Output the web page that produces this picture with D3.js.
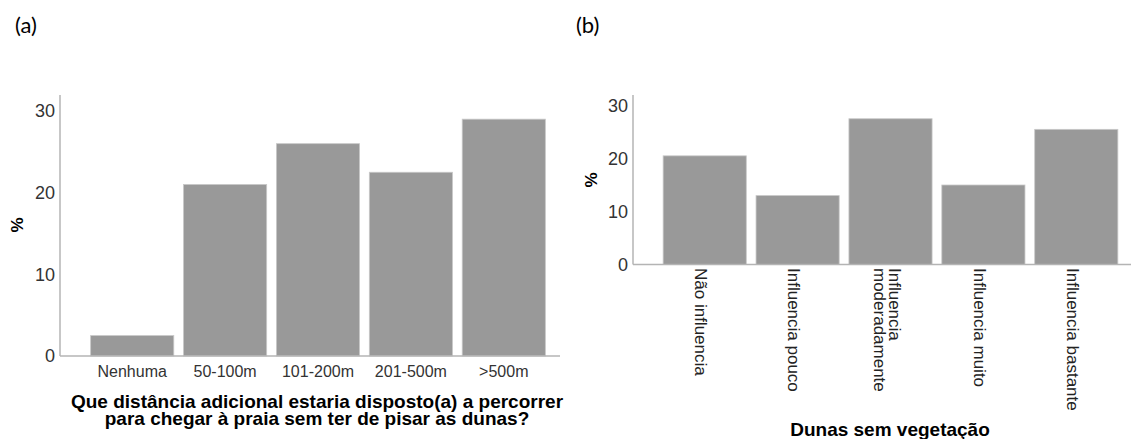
<!DOCTYPE html>
<html>
<head>
<meta charset="utf-8">
<script src="https://cdn.jsdelivr.net/npm/d3@7"></script>
<style>
  body { margin: 0; background: #fff; }
  svg { display: block; font-family: "Liberation Sans", Arial, sans-serif; }
</style>
</head>
<body>
<svg id="chart" width="1131" height="439"></svg>
<script>
// (a) distance
const distCategories = ["Nenhuma", "50-100m", "101-200m", "201-500m", ">500m"];
const distValues = [2.5, 21.0, 26.0, 22.5, 29.0];

// (b) dunes without vegetation
const dunasCategories = [
  ["Não influencia"],
  ["Influencia pouco"],
  ["Influencia", "moderadamente"],
  ["Influencia muito"],
  ["Influencia bastante"]
];
const dunasValues = [20.5, 13.0, 27.5, 15.0, 25.5];

const yTicks = [0, 10, 20, 30];

const svg = d3.select("#chart");

// panel letters
svg.append("text").attr("x", 15).attr("y", 33)
  .style("font-family", "Lato, 'Open Sans', sans-serif").style("font-size", "22px")
  .text("(a)");
svg.append("text").attr("x", 576).attr("y", 33)
  .style("font-family", "Lato, 'Open Sans', sans-serif").style("font-size", "22px")
  .text("(b)");

// ---------- panel (a) ----------
const xa = d3.scaleBand()
  .domain(distCategories)
  .range([86, 550])
  .paddingInner(0.105)
  .paddingOuter(0.05);

const ya = d3.scaleLinear().domain([0, 30]).range([356, 111]);

const ga = svg.append("g");

ga.selectAll(".bar")
  .data(distValues)
  .enter()
  .append("rect")
  .attr("class", "bar")
  .attr("x", (d, i) => xa(distCategories[i]))
  .attr("y", (d) => ya(d))
  .attr("width", xa.bandwidth())
  .attr("height", (d) => ya(0) - ya(d))
  .attr("fill", "#999999")
  .attr("stroke", "#c8c8c8")
  .attr("stroke-width", 0.8);

// axes lines
ga.append("line").attr("x1", 60).attr("x2", 60).attr("y1", 95).attr("y2", 356)
  .attr("stroke", "#b4b4b4").attr("stroke-width", 1.5);
ga.append("line").attr("x1", 60).attr("x2", 560).attr("y1", 356).attr("y2", 356)
  .attr("stroke", "#b4b4b4").attr("stroke-width", 1.5);

ga.selectAll(".ytick")
  .data(yTicks)
  .enter()
  .append("text")
  .attr("x", 55)
  .attr("y", (d) => ya(d))
  .attr("dy", "0.36em")
  .attr("text-anchor", "end")
  .style("font-size", "18px")
  .attr("fill", "#333")
  .text((d) => d);

ga.selectAll(".xtick")
  .data(distCategories)
  .enter()
  .append("text")
  .attr("x", (d) => xa(d) + xa.bandwidth() / 2)
  .attr("y", 377)
  .attr("text-anchor", "middle")
  .style("font-size", "16px")
  .attr("fill", "#333")
  .text((d) => d);

ga.append("text")
  .attr("transform", "translate(23,225) rotate(-90)")
  .attr("text-anchor", "middle")
  .style("font-size", "17px").style("font-weight", "bold")
  .text("%");

const titleA = ["Que distância adicional estaria disposto(a) a percorrer",
  "para chegar à praia sem ter de pisar as dunas?"];
ga.selectAll(".xtitle")
  .data(titleA)
  .enter()
  .append("text")
  .attr("x", 317)
  .attr("y", (d, i) => 408 + i * 16.5)
  .attr("text-anchor", "middle")
  .style("font-size", "19px").style("font-weight", "bold")
  .text((d) => d);

// ---------- panel (b) ----------
const xb = d3.scaleBand()
  .domain(d3.range(dunasValues.length))
  .range([658.5, 1122.5])
  .paddingInner(0.105)
  .paddingOuter(0.05);

const yb = d3.scaleLinear().domain([0, 30]).range([264.5, 105.5]);

const gb = svg.append("g");

gb.selectAll(".bar")
  .data(dunasValues)
  .enter()
  .append("rect")
  .attr("class", "bar")
  .attr("x", (d, i) => xb(i))
  .attr("y", (d) => yb(d))
  .attr("width", xb.bandwidth())
  .attr("height", (d) => yb(0) - yb(d))
  .attr("fill", "#999999")
  .attr("stroke", "#c8c8c8")
  .attr("stroke-width", 0.8);

gb.append("line").attr("x1", 633).attr("x2", 633).attr("y1", 95).attr("y2", 264.5)
  .attr("stroke", "#b4b4b4").attr("stroke-width", 1.5);
gb.append("line").attr("x1", 633).attr("x2", 1131).attr("y1", 264.5).attr("y2", 264.5)
  .attr("stroke", "#b4b4b4").attr("stroke-width", 1.5);

gb.selectAll(".ytick")
  .data(yTicks)
  .enter()
  .append("text")
  .attr("x", 628)
  .attr("y", (d) => yb(d))
  .attr("dy", "0.36em")
  .attr("text-anchor", "end")
  .style("font-size", "18px")
  .attr("fill", "#333")
  .text((d) => d);

// rotated category labels, reading top to bottom
const xlab = gb.selectAll(".xtick")
  .data(dunasCategories)
  .enter()
  .append("text")
  .attr("transform", (d, i) => `translate(${xb(i) + xb.bandwidth() / 2},268) rotate(90)`)
  .style("font-size", "17px")
  .attr("fill", "#222");

xlab.selectAll("tspan")
  .data((d) => d.map((t, j) => ({ t, j, n: d.length })))
  .enter()
  .append("tspan")
  .attr("x", 0)
  .attr("y", (d) => (d.j - (d.n - 1) / 2) * 15)
  .attr("dy", "0.55em")
  .text((d) => d.t);

gb.append("text")
  .attr("transform", "translate(597,180) rotate(-90)")
  .attr("text-anchor", "middle")
  .style("font-size", "17px").style("font-weight", "bold")
  .text("%");

gb.append("text")
  .attr("x", 890)
  .attr("y", 436)
  .attr("text-anchor", "middle")
  .style("font-size", "19px").style("font-weight", "bold")
  .text("Dunas sem vegetação");
</script>
</body>
</html>
